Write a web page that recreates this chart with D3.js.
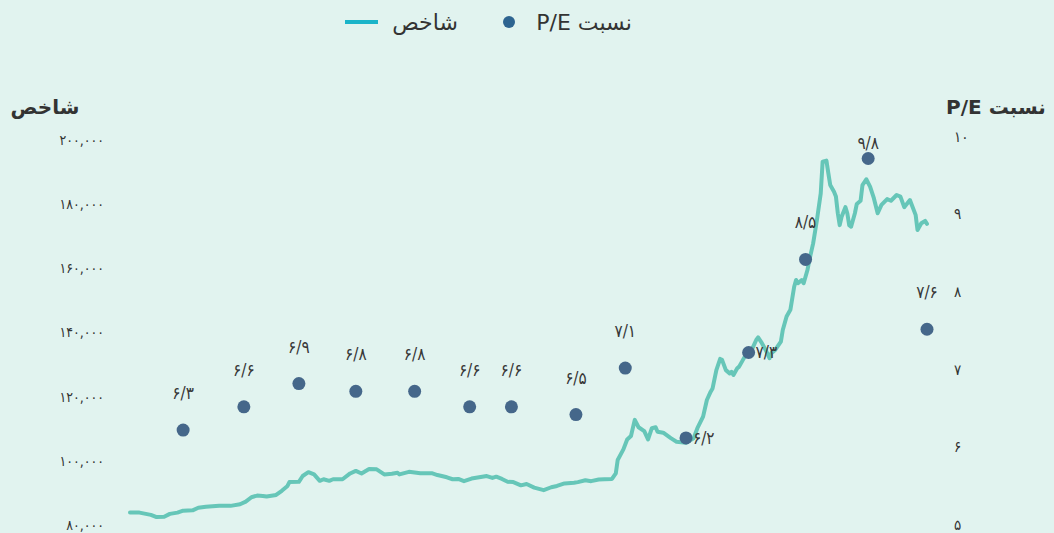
<!DOCTYPE html>
<html>
<head>
<meta charset="utf-8">
<script src="https://d3js.org/d3.v7.min.js"></script>
<style>
  body { margin: 0; background: #e1f3ef; }
  svg { display: block; font-family: "DejaVu Sans", "Noto Sans", sans-serif; }
</style>
</head>
<body>
<svg width="1054" height="533"></svg>
<script>
// index line: trading day (from start of series) and index value
var indexDays = [0,5,11,14,18,21,25,28,33,36,40,47,53,58,61,64,67,70,72,77,80,83,84,89,91,94,97,100,102,105,
  107,112,116,119,122,126,130,134,138,141,142,147,153,159,162,167,170,173,176,180,184,188,191,193,196,199,202,206,209,213,
  218,222,225,229,234,236,240,243,247,250,254,256,257,260,262,264,266,268,271,273,275,277,278,281,285,288,293,297,299,302,
  304,306,307,309,311,312,314,316,317,318,320,321,323,325,328,330,331,333,335,337,338,340,343,344,346,348,350,351,352,354,
  355,357,358,360,362,364,365,367,368,369,371,372,373,374,375,377,378,379,380,382,383,385,386,388,390,392,394,396,399,401,
  404,406,408,411,412,414,415,417,419,420];
var indexValues = [84800,84800,84100,83400,83500,84400,84800,85400,85500,86300,86600,86900,86900,87400,88200,89600,90100,90000,89800,90300,
  91600,93100,94300,94400,96200,97400,96700,94700,95200,94700,95200,95200,97000,97800,97000,98400,98300,96700,96900,97200,
  96700,97500,97100,97100,96500,95800,95200,95300,94600,95400,95800,96200,95600,96000,95300,94400,94300,93300,93700,92600,
  91800,92700,93100,93900,94100,94300,94900,94600,95100,95200,95300,97000,101200,104500,107600,108700,113700,111400,110200,107600,
  111100,111400,110000,109700,108000,106900,106600,108000,111100,114700,119900,122500,123500,129200,132700,132400,129200,128200,128700,127700,
  129800,130300,132400,134500,136000,138600,139400,137600,135500,132900,134500,135500,138100,141700,145900,148000,155200,157300,156300,157300,
  156300,160400,163500,168700,176000,184300,194200,194500,190600,186900,184800,183300,178100,174400,177000,180000,178100,174400,173900,178100,
  181000,182000,186900,188700,186400,182800,178100,180700,182500,182000,183800,183300,180000,182200,180700,177600,172900,175000,175700,174800];

// P/E ratio observations
var peDays = [28,60,89,119,150,179,201,235,261,293,326,356,389,420];
var peValues = [6.3,6.6,6.9,6.8,6.8,6.6,6.6,6.5,7.1,6.2,7.3,8.5,9.8,7.6];
var peLabelSide = ["top","top","top","top","top","top","top","top","top","right","right","top","top","top"];

var leftTicks = [80000,100000,120000,140000,160000,180000,200000];
var rightTicks = [5,6,7,8,9,10];

var svg = d3.select("svg");
var plotTop = 143, plotBottom = 528;
var numFont = "DejaVu Sans Condensed, DejaVu Sans, sans-serif";

function toFa(s) {
  return String(s).replace(/\d/g, function(d) { return "۰۱۲۳۴۵۶۷۸۹"[d]; });
}

var x = d3.scaleLinear()
  .domain(d3.extent(indexDays))
  .range([130, 927]);

var yLeft = d3.scaleLinear()
  .domain([80000, 200000])
  .range([plotBottom, plotTop]);

var yRight = d3.scaleLinear()
  .domain([5, 10])
  .range([plotBottom + 3, plotTop]);

// axes (labels only, no domain lines / tick marks)
var axisLeft = d3.axisLeft(yLeft)
  .tickValues(leftTicks)
  .tickSize(0)
  .tickPadding(0)
  .tickFormat(function(d) { return toFa(d3.format(",")(d)); });

var gl = svg.append("g")
  .attr("transform", "translate(104,0)")
  .call(axisLeft);
gl.select(".domain").remove();
gl.selectAll("text")
  .attr("fill", "#333")
  .attr("font-size", 14)
  .attr("font-family", numFont)
  .attr("dy", "0.1em");

var axisRight = d3.axisRight(yRight)
  .tickValues(rightTicks)
  .tickSize(0)
  .tickPadding(0)
  .tickFormat(function(d) { return toFa(d); });

var gr = svg.append("g")
  .attr("transform", "translate(954,0)")
  .call(axisRight);
gr.select(".domain").remove();
gr.selectAll("text")
  .attr("fill", "#333")
  .attr("font-size", 15)
  .attr("font-family", numFont)
  .attr("dy", "-0.12em");

// axis titles
svg.append("text")
  .attr("x", 45).attr("y", 114)
  .attr("text-anchor", "middle")
  .attr("direction", "rtl")
  .attr("font-size", 20).attr("font-weight", "bold")
  .attr("fill", "#333")
  .text("شاخص");

svg.append("text")
  .attr("x", 996).attr("y", 114)
  .attr("text-anchor", "middle")
  .attr("direction", "rtl")
  .attr("font-size", 20).attr("font-weight", "bold")
  .attr("fill", "#333")
  .text("نسبت P/E");

// index line
var line = d3.line()
  .x(function(d, i) { return x(indexDays[i]); })
  .y(function(d) { return yLeft(d); });

svg.append("path")
  .attr("fill", "none")
  .attr("stroke", "#66c6b8")
  .attr("stroke-width", 4)
  .attr("stroke-linejoin", "round")
  .attr("stroke-linecap", "round")
  .attr("d", line(indexValues));

// P/E points
var pe = peValues.map(function(v, i) { return { day: peDays[i], value: v, side: peLabelSide[i] }; });

svg.selectAll("circle.pe")
  .data(pe)
  .enter().append("circle")
  .attr("class", "pe")
  .attr("cx", function(d) { return x(d.day); })
  .attr("cy", function(d) { return yRight(d.value); })
  .attr("r", 6.5)
  .attr("fill", "#45678a");

svg.selectAll("text.pe-label")
  .data(pe)
  .enter().append("text")
  .attr("class", "pe-label")
  .attr("x", function(d) { return d.side === "right" ? x(d.day) + 7 : x(d.day); })
  .attr("y", function(d) {
    var cy = yRight(d.value);
    return d.side === "right" ? cy : Math.max(cy - 37, plotTop);
  })
  .attr("dy", "0.35em")
  .attr("text-anchor", function(d) { return d.side === "right" ? "start" : "middle"; })
  .attr("font-size", 17)
  .attr("font-family", numFont)
  .attr("fill", "#383838")
  .text(function(d) { return toFa(d.value.toFixed(1).replace(".", "/")); });

// legend
var legend = svg.append("g");
legend.append("line")
  .attr("x1", 345).attr("x2", 378)
  .attr("y1", 22).attr("y2", 22)
  .attr("stroke", "#1ab4c9")
  .attr("stroke-width", 4);
legend.append("text")
  .attr("x", 425).attr("y", 22)
  .attr("dy", "0.35em")
  .attr("text-anchor", "middle")
  .attr("direction", "rtl")
  .attr("font-size", 22)
  .attr("fill", "#333")
  .text("شاخص");
legend.append("circle")
  .attr("cx", 509).attr("cy", 22)
  .attr("r", 6)
  .attr("fill", "#2d6490");
legend.append("text")
  .attr("x", 584).attr("y", 22)
  .attr("dy", "0.35em")
  .attr("text-anchor", "middle")
  .attr("direction", "rtl")
  .attr("font-size", 22)
  .attr("fill", "#333")
  .text("نسبت P/E");
</script>
</body>
</html>
